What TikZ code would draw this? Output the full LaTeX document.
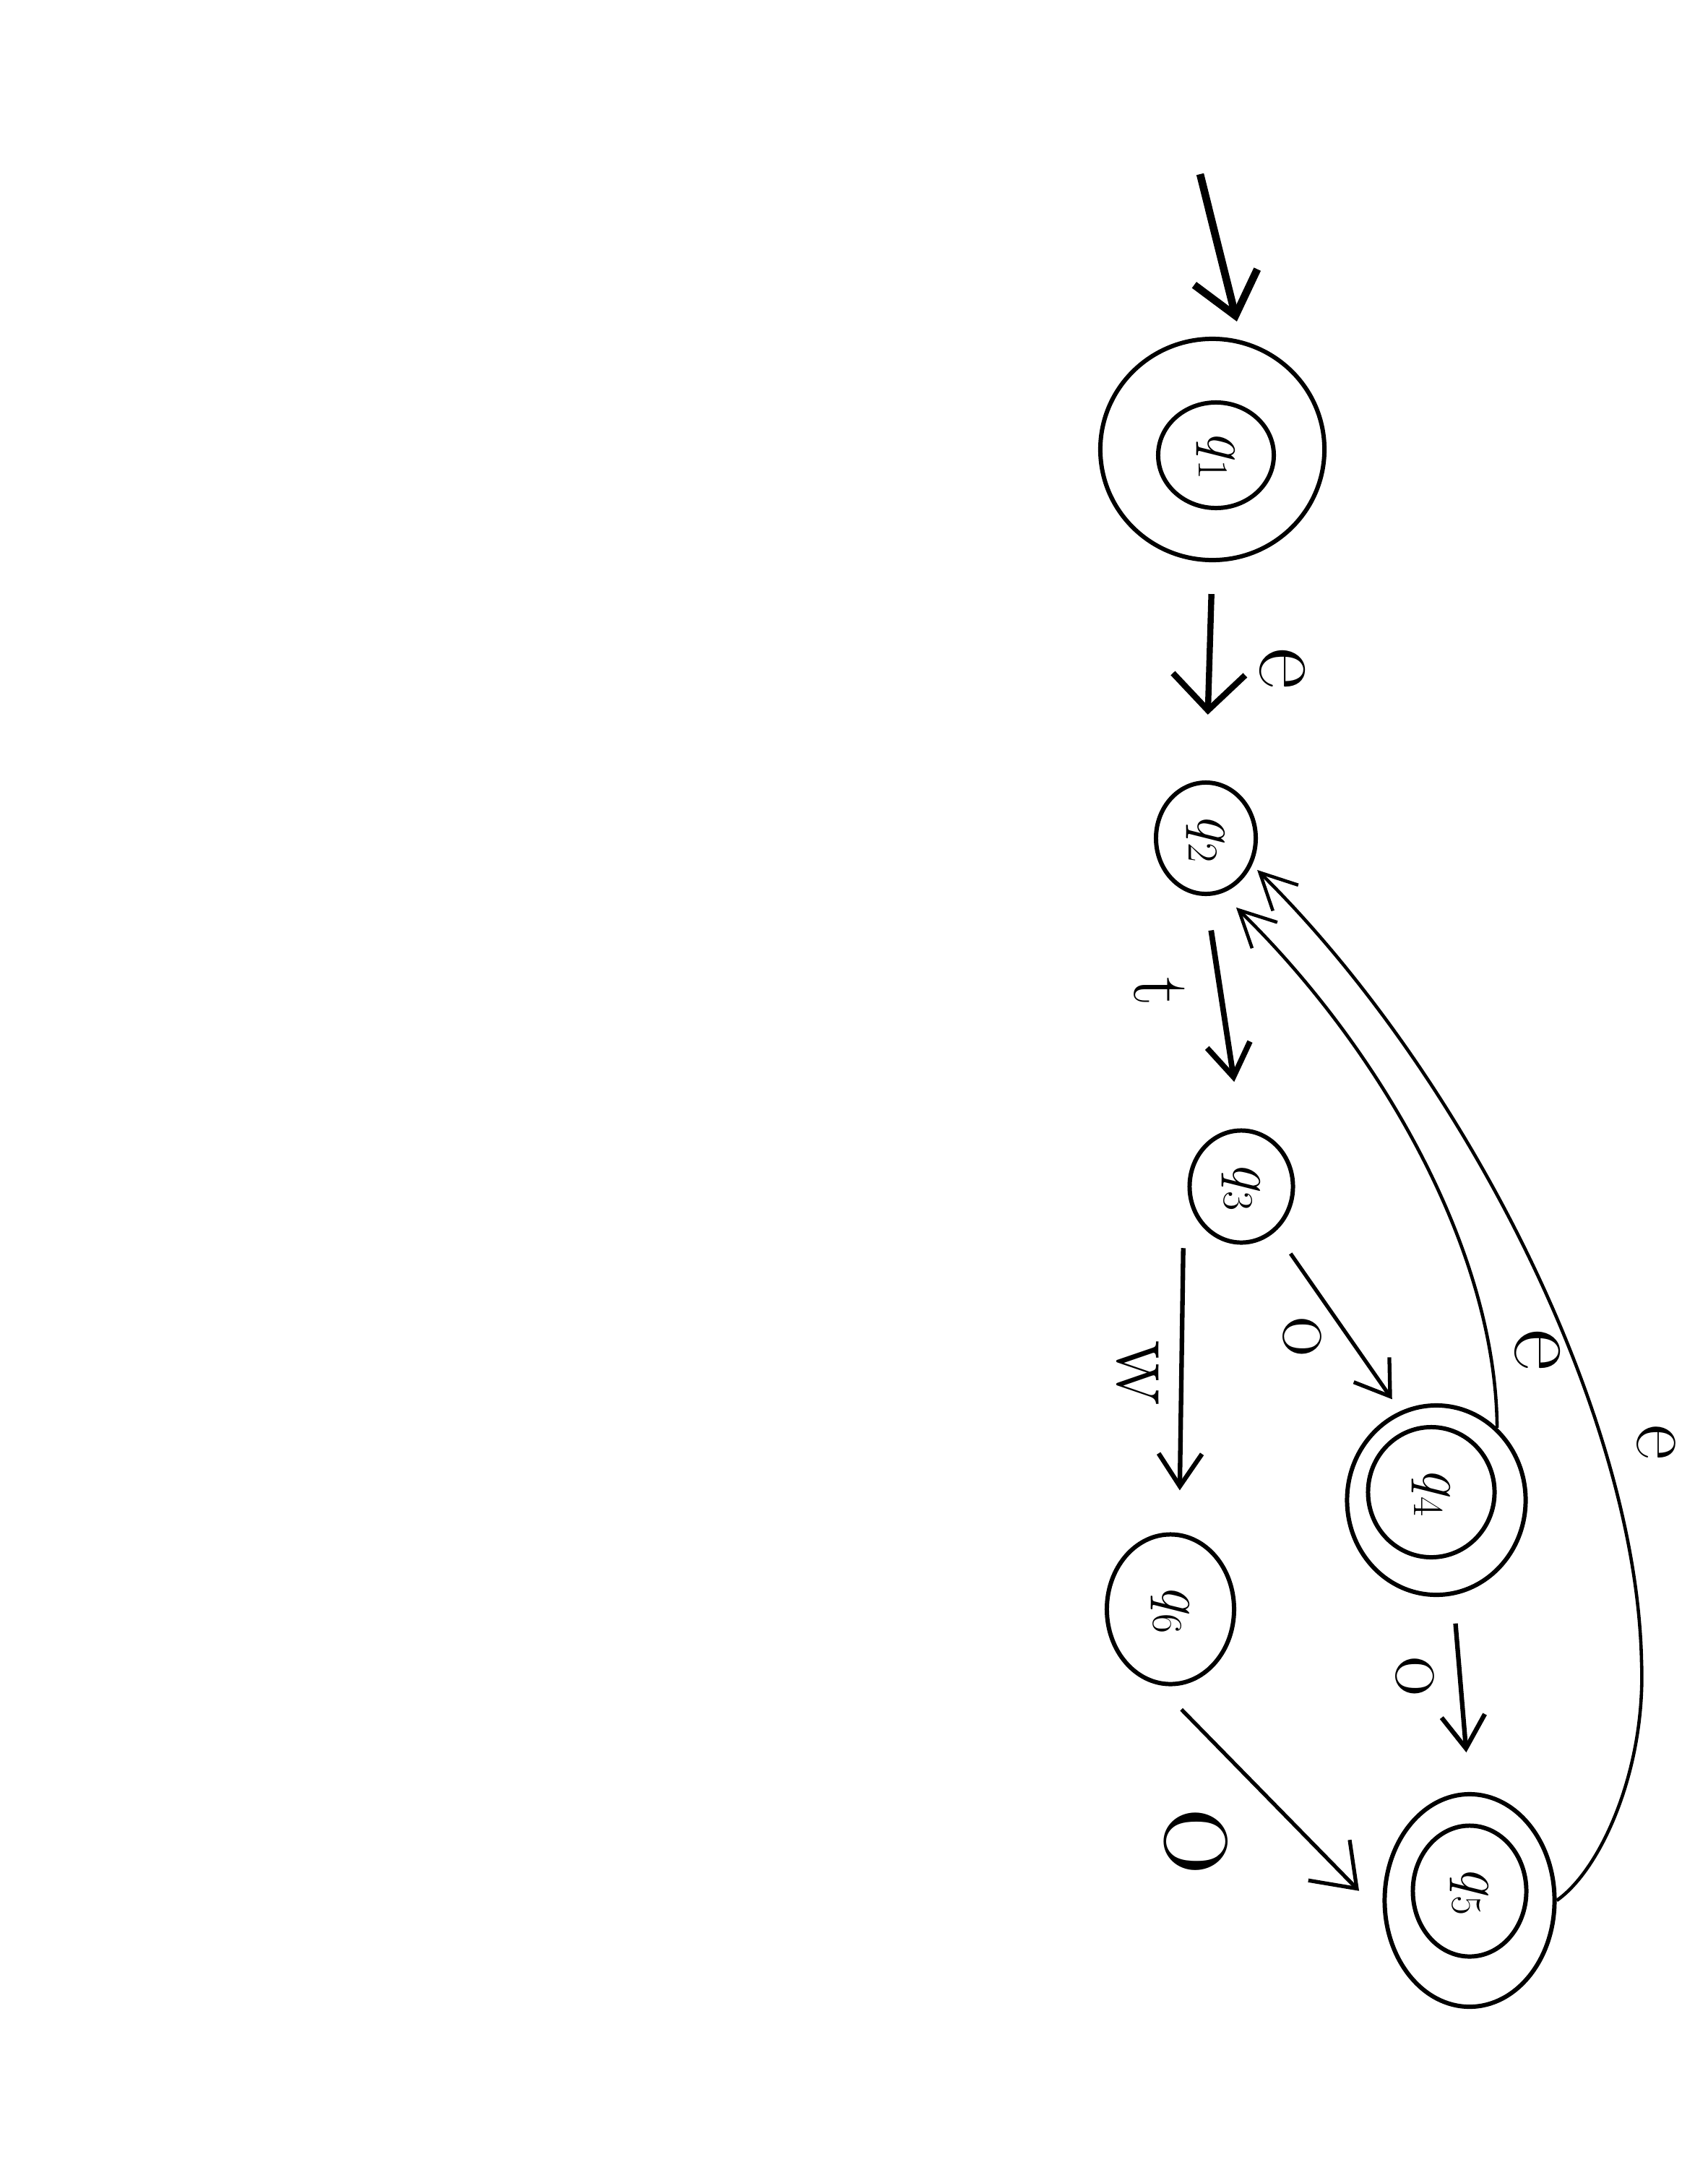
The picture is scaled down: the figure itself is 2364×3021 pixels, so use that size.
\documentclass[tikz,border=0pt]{standalone}
\usepackage{fontspec}
\usetikzlibrary{arrows.meta,shapes.geometric}

\begin{document}
\begin{tikzpicture}[
  x=0.01cm, y=-0.01cm,
  state/.style={draw, ellipse, line width=1.7pt, inner sep=0pt},
  qtext/.style={rotate=-90, font=\fontsize{24}{28}\selectfont},
  sym/.style={rotate=-90, inner sep=0pt},
  edge/.style={line width=1.8pt, -{Straight Barb[length=0.45cm, width=0.6cm]}},
  curve/.style={line width=1.3pt, -{Straight Barb[length=0.5cm, width=0.5cm]}}
]
\useasboundingbox (0,0) rectangle (2364,3021);

% states
\node[state, minimum width=3.1cm, minimum height=3.06cm] (q1) at (1678,622) {};
\node[state, minimum width=1.6cm, minimum height=1.46cm, label={[qtext]center:\textit{q}\textsubscript{1}}] (q1in) at (1683,630) {};
\node[state, minimum width=1.38cm, minimum height=1.54cm, label={[qtext]center:\textit{q}\textsubscript{2}}] (q2) at (1669,1160) {};
\node[state, minimum width=1.43cm, minimum height=1.55cm, label={[qtext]center:\textit{q}\textsubscript{3}}] (q3) at (1718,1642) {};
\node[state, minimum width=2.47cm, minimum height=2.62cm] (q4) at (1988,2076) {};
\node[state, minimum width=1.75cm, minimum height=1.8cm, label={[qtext]center:\textit{q}\textsubscript{4}}] (q4in) at (1981,2065) {};
\node[state, minimum width=2.35cm, minimum height=2.94cm] (q5) at (2034,2630) {};
\node[state, minimum width=1.57cm, minimum height=1.81cm, label={[qtext]center:\textit{q}\textsubscript{5}}] (q5in) at (2034,2617) {};
\node[state, minimum width=1.76cm, minimum height=2.07cm, label={[qtext]center:\textit{q}\textsubscript{6}}] (q6) at (1620,2227) {};

% start
\coordinate (start) at (1661,241);
\draw[line width=3pt, -{Straight Barb[length=0.55cm, width=0.9cm]}, shorten >=0.27cm] (start) -- (q1.75);

% transitions
\draw[edge, line width=2.4pt, -{Straight Barb[length=0.5cm, width=1cm]}, shorten <=0.44cm, shorten >=0.91cm] (q1.south) -- (q2.north);
\draw[edge, line width=2.2pt, shorten <=0.48cm, shorten >=0.65cm] (q2.south) -- (q3.north);
\draw[edge, line width=1.5pt, shorten <=0.37cm, shorten >=0.2cm] (q3.-53) -- (q4.112);
\draw[edge, shorten <=0.21cm, shorten >=0.58cm] ([xshift=-0.35cm]q3.235) -- ([xshift=0.12cm]q6.north);
\draw[edge, shorten <=0.39cm, shorten >=0.55cm] (q4.-80) -- (q5.north);
\draw[edge, line width=1.5pt, -{Straight Barb[length=0.55cm, width=0.8cm]}, shorten <=0.48cm, shorten >=0.48cm] (q6.260) -- (q5.190);
\draw[curve, shorten >=0.28cm] (q4.50) .. controls (2070,1720) and (1900,1440) .. (q2.-74);
\draw[curve, shorten >=0.1cm] (q5.east) .. controls (2215,2588) and (2278,2450) .. (2272,2300)
  .. controls (2265,1950) and (2020,1480) .. (q2.-30);

% symbols
\node[sym, font=\fontsize{40}{44}\selectfont] (e12) at (1775,925) {e};
\node[sym, font=\fontsize{32}{36}\selectfont] (t23) at (1605,1372) {t};
\node[sym, font=\fontsize{34}{38}\selectfont] (o34) at (1802,1850) {o};
\node[sym, font=\fontsize{38}{42}\selectfont] (w36) at (1575,1900) {w};
\node[sym, font=\fontsize{34}{38}\selectfont] (o45) at (1958,2320) {o};
\node[sym, font=\fontsize{56}{60}\selectfont] (o65) at (1655,2549) {o};
\node[sym, font=\fontsize{40}{44}\selectfont] (e42) at (2128,1868) {e};
\node[sym, font=\fontsize{34}{38}\selectfont] (e52) at (2292,1996) {e};
\end{tikzpicture}
\end{document}
